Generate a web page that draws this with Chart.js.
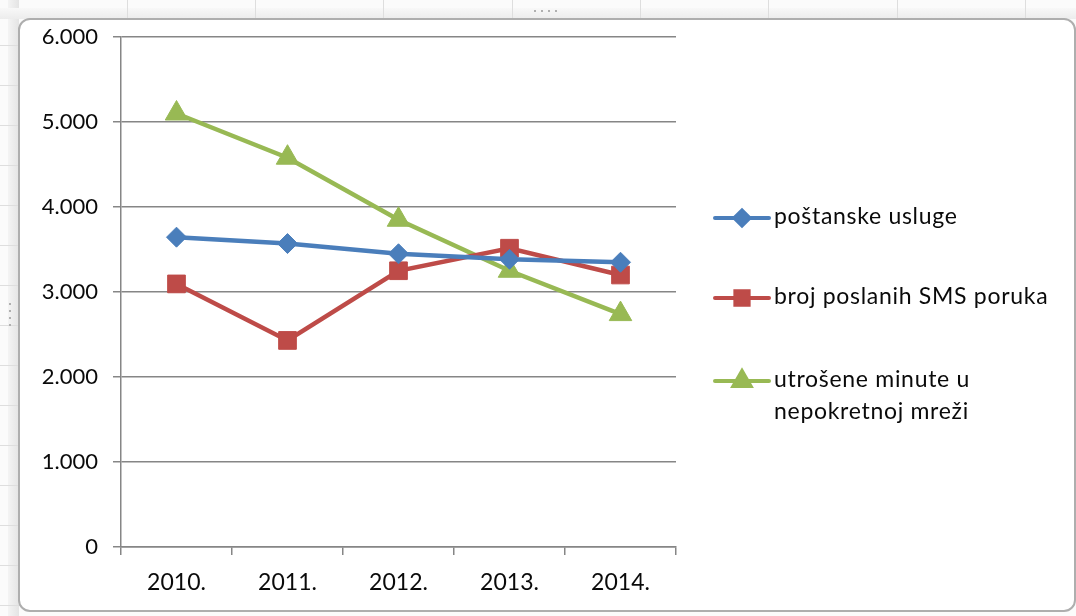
<!DOCTYPE html>
<html>
<head>
<meta charset="utf-8">
<script src="https://cdn.jsdelivr.net/npm/chart.js@4.4.1/dist/chart.umd.min.js"></script>
<style>
  html, body { margin: 0; padding: 0; }
  body { width: 1076px; height: 616px; position: relative; overflow: hidden; background: #fbfbfb; font-family: Lato, "Noto Sans", sans-serif; }
  .vline { position: absolute; top: 0; width: 1px; height: 20px; background: #dedede; }
  .hline { position: absolute; left: 0; width: 20px; height: 1px; background: #dedede; }
  #leftstrip { position: absolute; left: 8px; top: 0; width: 11px; height: 616px; background: linear-gradient(to right, #f4f4f4, #e4e4e4); }
  #topstrip { position: absolute; left: 0; top: 8px; width: 1076px; height: 11px; background: linear-gradient(to bottom, #f8f8f8, #ececec); }
  #frame { position: absolute; left: 18px; top: 18px; width: 1054px; height: 590px; border: 2px solid #aeaeae; border-radius: 12px; background: #ffffff; box-sizing: content-box; }
  #wrap { position: absolute; left: 0; top: 0; width: 1076px; height: 616px; }
  .dot { position: absolute; width: 2px; height: 2px; background: #b0b0b0; }
</style>
</head>
<body>
<div id="leftstrip"></div>
<div id="topstrip"></div>
<div id="frame"></div>
<div id="wrap"><canvas id="c" width="1076" height="616"></canvas></div>
<script>
// ---- data ----
const categories = ['2010.', '2011.', '2012.', '2013.', '2014.'];
const postanskeUsluge = [3645, 3570, 3450, 3385, 3350];
const smsPoruke = [3095, 2430, 3250, 3515, 3200];
const minuteNepokretna = [5100, 4580, 3850, 3250, 2740];
const seriesNames = ['poštanske usluge', 'broj poslanih SMS poruka', ['utrošene minute u', 'nepokretnoj mreži']];
const yTicks = [0, 1000, 2000, 3000, 4000, 5000, 6000];

// decorative spreadsheet cell lines
(function () {
  const xs = [127, 255, 383, 512, 640, 768, 897, 1025];
  xs.forEach(x => { const d = document.createElement('div'); d.className = 'vline'; d.style.left = x + 'px'; document.body.insertBefore(d, document.getElementById('frame')); });
  for (let y = 45; y < 616; y += 40) { const d = document.createElement('div'); d.className = 'hline'; d.style.top = y + 'px'; document.body.insertBefore(d, document.getElementById('frame')); }
  for (let i = 0; i < 4; i++) { const d = document.createElement('div'); d.className = 'dot'; d.style.left = '9px'; d.style.top = (303 + i * 7) + 'px'; document.body.appendChild(d); }
  for (let i = 0; i < 4; i++) { const d = document.createElement('div'); d.className = 'dot'; d.style.top = '10px'; d.style.left = (534 + i * 7) + 'px'; document.body.appendChild(d); }
})();

const fmt = v => v === 0 ? '0' : (v / 1000).toFixed(3).replace(/\B(?=(\d{3})+(?!\d))/g, '.');
const FONT = 'Lato, "Noto Sans", sans-serif';

const styles = [
  { color: '#4a7ebb', pointStyle: 'rectRot', radius: 10 },
  { color: '#be4b48', pointStyle: 'rect', radius: 12.5 },
  { color: '#98b954', pointStyle: 'triangle', radius: 13 }
];

const legendPlugin = {
  id: 'excelLegend',
  afterDraw(chart) {
    const ctx = chart.ctx;
    const rows = [218, 298, 381];
    ctx.save();
    chart.data.datasets.forEach((ds, i) => {
      const y = rows[i];
      ctx.strokeStyle = ds.borderColor;
      ctx.lineWidth = 4;
      ctx.lineCap = 'round';
      ctx.beginPath(); ctx.moveTo(715, y); ctx.lineTo(769, y); ctx.stroke();
      Chart.helpers.drawPoint(ctx, { pointStyle: ds.pointStyle, radius: ds.pointRadius * 0.75, borderWidth: 1 }, 742, y);
      ctx.fillStyle = ds.backgroundColor; ctx.fill();
      ctx.fillStyle = '#0a0a0a';
      ctx.font = '23px ' + FONT;
      ctx.letterSpacing = '0.7px';
      ctx.textBaseline = 'middle';
      ctx.textAlign = 'left';
      const lines = Array.isArray(seriesNames[i]) ? seriesNames[i] : [seriesNames[i]];
      lines.forEach((t, k) => ctx.fillText(t, 774, y - 1 + k * 32));
    });
    ctx.restore();
  }
};

const datasets = [postanskeUsluge, smsPoruke, minuteNepokretna].map((d, i) => ({
  label: Array.isArray(seriesNames[i]) ? seriesNames[i].join(' ') : seriesNames[i],
  data: d,
  borderColor: styles[i].color,
  backgroundColor: styles[i].color,
  borderWidth: 4.5,
  pointStyle: styles[i].pointStyle,
  pointRadius: styles[i].radius,
  pointBorderWidth: 1,
  pointBackgroundColor: styles[i].color,
  pointBorderColor: styles[i].color,
  tension: 0
}));

new Chart(document.getElementById('c'), {
  type: 'line',
  data: { labels: categories, datasets },
  plugins: [legendPlugin],
  options: {
    responsive: false,
    animation: false,
    layout: { padding: { left: 20, right: 400, top: 37, bottom: 20 } },
    plugins: { legend: { display: false }, tooltip: { enabled: false } },
    scales: {
      x: {
        offset: true,
        grid: { display: true, drawOnChartArea: false, drawTicks: true, tickLength: 8, offset: true, color: '#868686', lineWidth: 1.5 },
        border: { color: '#868686', width: 1.5 },
        ticks: { color: '#0a0a0a', font: { family: FONT, size: 23 }, padding: 14 },
        afterFit(scale) { scale.height = 49; }
      },
      y: {
        min: 0, max: 6000,
        afterBuildTicks(scale) { scale.ticks = yTicks.map(v => ({ value: v })); },
        grid: { color: '#868686', lineWidth: 1.5, tickLength: 8 },
        border: { color: '#868686', width: 1.5 },
        ticks: { color: '#0a0a0a', font: { family: FONT, size: 22 }, padding: 15, callback: v => fmt(v) },
        afterFit(scale) { scale.width = 101; }
      }
    }
  }
});
</script>
</body>
</html>
